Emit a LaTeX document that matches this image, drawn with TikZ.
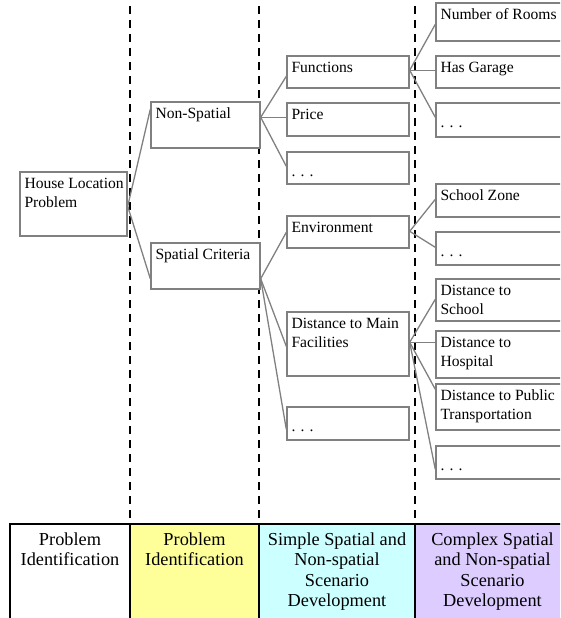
\documentclass[tikz,border=0pt]{standalone}
\usepackage{fontspec}
\setmainfont{Liberation Serif}
\usetikzlibrary{fit}
\definecolor{linegray}{HTML}{808080}
\definecolor{colyellow}{HTML}{FFFF99}
\definecolor{colcyan}{HTML}{CCFFFF}
\definecolor{colpurple}{HTML}{DDCCFF}
\newcommand{\boxstrut}{\rule{0pt}{13pt}}
\newcommand{\cellstrut}{\rule{0pt}{15pt}}
\tikzset{
  box/.style={draw=linegray, line width=1.4pt, inner sep=0pt, fill=white},
  txt/.style={anchor=north west, inner sep=0pt, align=left, font=\fontsize{15.6}{18.5}\selectfont},
  conn/.style={draw=linegray, line width=1.3pt},
  phase/.style={dash pattern=on 8pt off 6pt, line width=1.8pt, black},
  cell/.style={draw=black, line width=1.5pt, inner sep=0pt},
  celltxt/.style={anchor=north, inner sep=0pt, align=center, font=\fontsize{18.3}{20.3}\selectfont}
}
\newcommand{\mybox}[6]{%
  \node[box, fit={(#2,#3)(#4,#5)}] (#1) {};
  \node[txt] (#1t) at ([xshift=5pt,yshift=-4pt]#1.north west) {\boxstrut #6};
}
\newcommand{\mydots}[5]{%
  \node[box, fit={(#2,#3)(#4,#5)}] (#1) {};
  \node[txt] (#1t) at ([xshift=5pt,yshift=-12pt]#1.north west) {\boxstrut .\,\,.\,\,.};
}
\begin{document}
\begin{tikzpicture}[x=1pt,y=-1pt]
\useasboundingbox (0,0) rectangle (560,618);
\clip (0,0) rectangle (560,618);

% phase separators
\coordinate (s1t) at (130,6); \coordinate (s1b) at (130,518);
\coordinate (s2t) at (259,6); \coordinate (s2b) at (259,518);
\coordinate (s3t) at (415,6); \coordinate (s3b) at (415,518);
\draw[phase] (s1t) -- (s1b);
\draw[phase] (s2t) -- (s2b);
\draw[phase] (s3t) -- (s3b);

% boxes
\mybox{hlp}{20}{172}{127}{236}{House Location\\Problem}
\mybox{ns}{151}{102}{260}{148}{Non-Spatial}
\mybox{sc}{151}{243}{260}{289}{Spatial Criteria}

\mybox{fn}{287}{56}{409}{88}{Functions}
\mybox{pr}{287}{103}{409}{136}{Price}
\mydots{da}{287}{152}{409}{184}
\mybox{env}{287}{216}{409}{248}{Environment}
\mybox{dmf}{287}{312}{409}{376}{Distance to Main\\Facilities}
\mydots{db}{287}{407}{409}{440}

\mybox{nr}{436}{3}{566}{41}{Number of Rooms}
\mybox{hg}{436}{56}{566}{88}{Has Garage}
\mydots{dc}{436}{103}{566}{137}
\mybox{sz}{436}{184}{566}{217}{School Zone}
\mydots{dd}{436}{232}{566}{265}
\mybox{ds}{436}{279}{566}{321}{Distance to\\School}
\mybox{dh}{436}{331}{566}{378}{Distance to\\Hospital}
\mybox{dp}{436}{384}{566}{430}{Distance to Public\\Transportation}
\mydots{de}{436}{446}{566}{479}

% connectors
\draw[conn] ([yshift=-35pt]hlp.north east) -- ([yshift=-8pt]ns.north west);
\draw[conn] ([yshift=-35pt]hlp.north east) -- ([yshift=11pt]sc.south west);

\draw[conn] ([yshift=-16pt]ns.north east) -- ([yshift=-21pt]fn.north west);
\draw[conn] ([yshift=-16pt]ns.north east) -- ([yshift=-15pt]pr.north west);
\draw[conn] ([yshift=-16pt]ns.north east) -- ([yshift=-15pt]da.north west);

\draw[conn] ([yshift=-15pt]fn.north east) -- ([yshift=-22pt]nr.north west);
\draw[conn] ([yshift=-15pt]fn.north east) -- ([yshift=-15pt]hg.north west);
\draw[conn] ([yshift=-15pt]fn.north east) -- ([yshift=-15pt]dc.north west);

\draw[conn] ([yshift=11pt]sc.south east) -- ([yshift=-17pt]env.north west);
\draw[conn] ([yshift=11pt]sc.south east) -- ([yshift=-35pt]dmf.north west);
\draw[conn] ([yshift=11pt]sc.south east) -- ([yshift=-23pt]db.north west);

\draw[conn] ([yshift=-16pt]env.north east) -- ([yshift=-16pt]sz.north west);
\draw[conn] ([yshift=-16pt]env.north east) -- ([yshift=-16pt]dd.north west);

\draw[conn] ([yshift=-31pt]dmf.north east) -- ([yshift=-21pt]ds.north west);
\draw[conn] ([yshift=-31pt]dmf.north east) -- ([yshift=-12pt]dh.north west);
\draw[conn] ([yshift=-31pt]dmf.north east) -- ([yshift=-6pt]dp.north west);
\draw[conn] ([yshift=-31pt]dmf.north east) -- ([yshift=-24pt]de.north west);

% phase table
\node[cell, fill=white, fit={(10,524)(130,630)}] (c1) {};
\node[cell, fill=colyellow, fit={(130,524)(259,630)}] (c2) {};
\node[cell, fill=colcyan, fit={(259,524)(415,630)}] (c3) {};
\node[cell, fill=colpurple, fit={(415,524)(570,630)}] (c4) {};
\node[celltxt] (c1t) at ([yshift=-7pt]c1.north) {\cellstrut Problem\\Identification};
\node[celltxt] (c2t) at ([yshift=-7pt]c2.north) {\cellstrut Problem\\Identification};
\node[celltxt] (c3t) at ([yshift=-7pt]c3.north) {\cellstrut Simple Spatial and\\Non-spatial\\Scenario\\Development};
\node[celltxt] (c4t) at ([yshift=-7pt]c4.north) {\cellstrut Complex Spatial\\and Non-spatial\\Scenario\\Development};
\end{tikzpicture}
\end{document}
